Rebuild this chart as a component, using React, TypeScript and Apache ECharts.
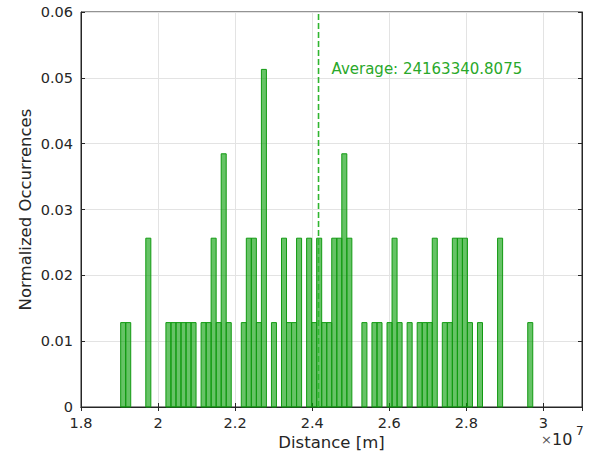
import React, { useEffect, useRef } from "react";
import * as echarts from "echarts";

// Histogram: 82 equal-width bins, counts per bin (78 samples in total)
const binStart = 19029600; // metres
const binWidth = 130400; // metres
const binCounts = [
  1, 1, 0, 0, 0, 2, 0, 0, 0, 1,
  1, 1, 1, 1, 1, 0, 1, 1, 2, 1,
  3, 1, 0, 0, 1, 2, 2, 1, 4, 0,
  1, 0, 2, 1, 1, 2, 0, 2, 1, 2,
  1, 1, 2, 2, 3, 2, 0, 0, 1, 0,
  1, 1, 0, 1, 2, 1, 0, 1, 0, 1,
  1, 1, 2, 0, 1, 1, 2, 2, 2, 1,
  0, 1, 0, 0, 0, 2, 0, 0, 0, 0,
  0, 1,
];
const averageDistance = 24163340.8075;
const xTicks = [1.8, 2, 2.2, 2.4, 2.6, 2.8, 3];
const yTicks = [0, 0.01, 0.02, 0.03, 0.04, 0.05, 0.06];

const xMin = 18e6;
const xMax = 31e6;
const xStep = 2e6;
const yMin = 0;
const yMax = 0.06;
const yStep = 0.01;

const AXIS = "#262626";
const GRID = "#e3e3e3";
const FONT = "DejaVu Sans";

export default function App() {
  const ref = useRef<HTMLDivElement>(null);

  useEffect(() => {
    if (!ref.current) return;
    const chart = echarts.init(ref.current, undefined, { renderer: "svg" });
    const total = binCounts.reduce((a, b) => a + b, 0);
    const bars = binCounts
      .map((c, i) => [binStart + i * binWidth, binStart + (i + 1) * binWidth, c / total])
      .filter((d) => d[2] > 0);

    const fmtX = (v: number) => {
      const t = v / 1e7;
      const hit = xTicks.find((k) => Math.abs(k - t) < 1e-9);
      return hit === undefined ? "" : String(hit);
    };
    const fmtY = (v: number) => {
      const hit = yTicks.find((k) => Math.abs(k - v) < 1e-9);
      return hit === undefined ? "" : hit === 0 ? "0" : hit.toFixed(2);
    };

    const tickCommon = { show: true, inside: true, length: 4, lineStyle: { color: AXIS, width: 1 } };

    chart.setOption({
      animation: false,
      backgroundColor: "#ffffff",
      grid: {
        left: 81,
        right: 11,
        top: 12,
        bottom: 52,
        show: true,
        borderColor: AXIS,
        borderWidth: 1,
        backgroundColor: "transparent",
      },
      xAxis: [
        {
          type: "value",
          min: xMin,
          max: xMax,
          interval: xStep,
          name: "Distance [m]",
          nameLocation: "middle",
          nameGap: 27,
          nameMoveOverlap: false,
          nameTextStyle: { fontFamily: FONT, fontSize: 16.5, color: AXIS },
          axisLine: { show: true, lineStyle: { color: AXIS } },
          axisTick: tickCommon,
          axisLabel: {
            formatter: fmtX,
            showMaxLabel: false,
            fontFamily: FONT,
            fontSize: 14.5,
            color: AXIS,
            margin: 8,
          },
          splitLine: { show: true, lineStyle: { color: GRID, width: 1 } },
        },
        {
          type: "value",
          position: "top",
          min: xMin,
          max: xMax,
          interval: xStep,
          axisLine: { show: true, lineStyle: { color: AXIS } },
          axisTick: tickCommon,
          axisLabel: { show: false },
          splitLine: { show: false },
        },
      ],
      yAxis: [
        {
          type: "value",
          min: yMin,
          max: yMax,
          interval: yStep,
          name: "Normalized Occurrences",
          nameLocation: "middle",
          nameGap: 47,
          nameMoveOverlap: false,
          nameTextStyle: { fontFamily: FONT, fontSize: 16.5, color: AXIS },
          axisLine: { show: true, lineStyle: { color: AXIS } },
          axisTick: tickCommon,
          axisLabel: { formatter: fmtY, fontFamily: FONT, fontSize: 14.5, color: AXIS, margin: 8 },
          splitLine: { show: true, lineStyle: { color: GRID, width: 1 } },
        },
        {
          type: "value",
          position: "right",
          min: yMin,
          max: yMax,
          interval: yStep,
          axisLine: { show: true, lineStyle: { color: AXIS } },
          axisTick: tickCommon,
          axisLabel: { show: false },
          splitLine: { show: false },
        },
      ],
      series: [
        {
          type: "custom",
          xAxisIndex: 0,
          yAxisIndex: 0,
          data: bars,
          encode: { x: [0, 1], y: 2 },
          renderItem: (_params: any, api: any) => {
            const p0 = api.coord([api.value(0), api.value(2)]);
            const p1 = api.coord([api.value(1), 0]);
            return {
              type: "rect",
              shape: { x: p0[0], y: p0[1], width: p1[0] - p0[0], height: p1[1] - p0[1] },
              style: { fill: "rgba(0,155,0,0.6)", stroke: "#119a11", lineWidth: 1 },
            };
          },
          z: 2,
        },
        {
          type: "line",
          xAxisIndex: 0,
          yAxisIndex: 0,
          data: [
            [averageDistance, yMin],
            [averageDistance, yMax],
          ],
          showSymbol: false,
          symbol: "none",
          lineStyle: { color: "#2fb52f", width: 1.6, type: [6, 3] },
          z: 3,
          silent: true,
        },
      ],
    });

    const avgPx = chart.convertToPixel({ xAxisIndex: 0 }, averageDistance) as number;
    chart.setOption({
      graphic: [
        {
          type: "text",
          left: avgPx + 13,
          top: 61,
          style: {
            text: "Average: " + averageDistance.toFixed(4),
            fill: "#2aa82a",
            font: `15px "${FONT}"`,
          },
          z: 10,
        },
        {
          type: "text",
          left: 541,
          top: 433,
          style: { text: "×", fill: "#555555", font: `13px "${FONT}"` },
        },
        {
          type: "text",
          left: 552,
          top: 431,
          style: { text: "10", fill: AXIS, font: `16px "${FONT}"` },
        },
        {
          type: "text",
          left: 576,
          top: 425,
          style: { text: "7", fill: AXIS, font: `12px "${FONT}"` },
        },
      ],
    });

    return () => chart.dispose();
  }, []);

  return (
    <div
      ref={ref}
      style={{ position: "fixed", left: 0, top: 0, width: 593, height: 459, background: "#fff" }}
    />
  );
}
